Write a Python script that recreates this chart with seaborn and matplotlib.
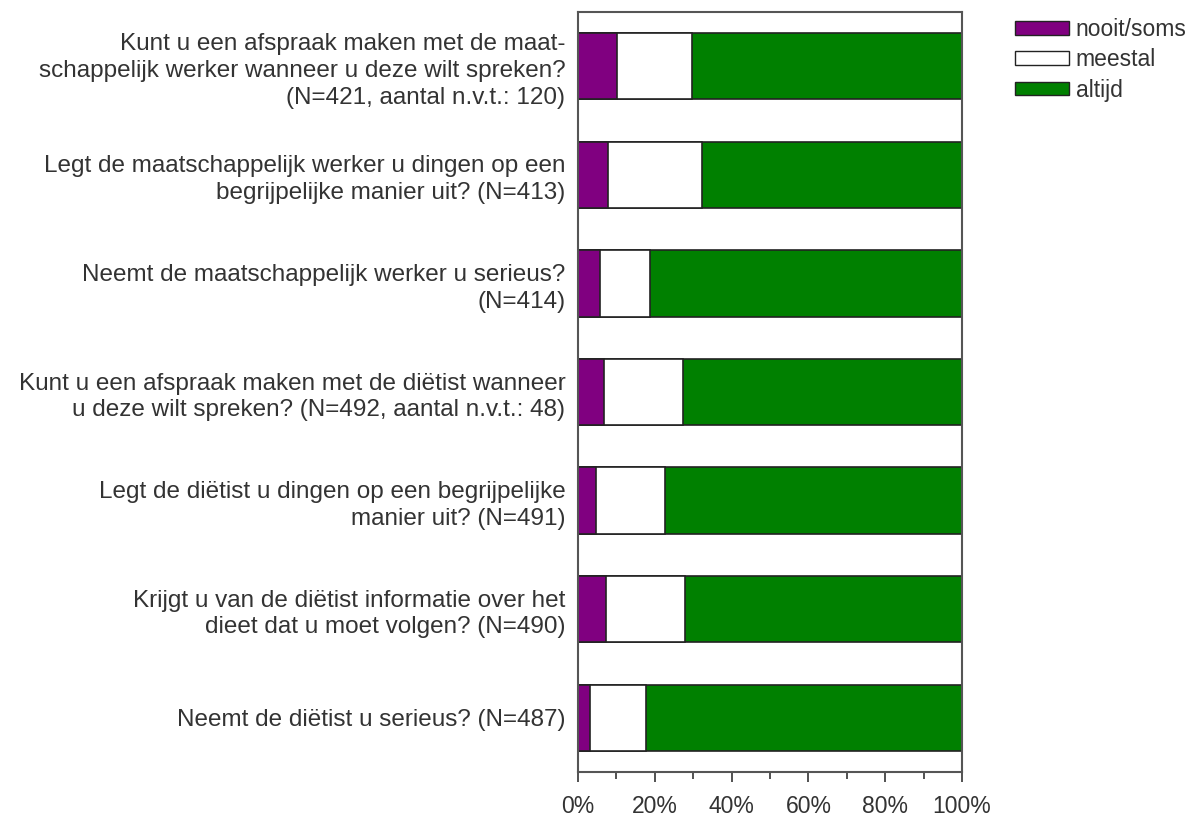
import matplotlib
matplotlib.use("Agg")
import matplotlib.pyplot as plt
import pandas as pd
import seaborn as sns
from matplotlib.patches import Patch
from matplotlib.ticker import MultipleLocator

vragen = [
    "Kunt u een afspraak maken met de maat-\nschappelijk werker wanneer u deze wilt spreken?\n(N=421, aantal n.v.t.: 120)",
    "Legt de maatschappelijk werker u dingen op een\nbegrijpelijke manier uit? (N=413)",
    "Neemt de maatschappelijk werker u serieus?\n(N=414)",
    "Kunt u een afspraak maken met de diëtist wanneer\nu deze wilt spreken? (N=492, aantal n.v.t.: 48)",
    "Legt de diëtist u dingen op een begrijpelijke\nmanier uit? (N=491)",
    "Krijgt u van de diëtist informatie over het\ndieet dat u moet volgen? (N=490)",
    "Neemt de diëtist u serieus? (N=487)",
]
nooit_soms = [10.1, 7.8, 5.7, 6.9, 4.6, 7.3, 3.1]
meestal = [19.7, 24.5, 13.0, 20.5, 18.1, 20.6, 14.5]
altijd = [70.2, 67.7, 81.3, 72.6, 77.3, 72.1, 82.4]

labels = ["nooit/soms", "meestal", "altijd"]
kleuren = ["#800080", "#ffffff", "#008000"]

df = pd.DataFrame({"vraag": vragen, "nooit": nooit_soms, "meestal": meestal, "altijd": altijd})
df["cum1"] = df["nooit"]
df["cum2"] = df["nooit"] + df["meestal"]
df["cum3"] = df["cum2"] + df["altijd"]

sns.set_style("white")
plt.rcParams["font.family"] = ["Liberation Sans", "DejaVu Sans"]
tekst = "#333333"

fig = plt.figure(figsize=(11.95, 8.17), dpi=100)
ax = fig.add_axes([578 / 1195, 1 - 772 / 817, 384 / 1195, 760 / 817])

# stacked by overdrawing cumulative totals, back to front
for col, kleur in zip(["cum3", "cum2", "cum1"], kleuren[::-1]):
    sns.barplot(data=df, y="vraag", x=col, orient="h", color=kleur, width=0.61,
                edgecolor="#222222", linewidth=1.2, saturation=1, ax=ax, order=vragen)

ax.set_xlim(0, 100)
ax.set_xlabel("")
ax.set_ylabel("")
ax.xaxis.set_major_locator(MultipleLocator(20))
ax.xaxis.set_minor_locator(MultipleLocator(10))
ax.set_xticklabels([f"{int(v)}%" for v in ax.get_xticks()])
ax.tick_params(axis="x", which="major", bottom=True, length=7.5, width=1.2, color="#333333",
               labelsize=16.5, labelcolor=tekst, pad=9)
ax.tick_params(axis="x", which="minor", bottom=True, length=5, width=1.2, color="#333333")
ax.tick_params(axis="y", length=0, labelsize=17.5, labelcolor=tekst, pad=9)
for lbl in ax.get_yticklabels():
    lbl.set_horizontalalignment("right")
    lbl.set_multialignment("right")
    lbl.set_linespacing(1.28)

for sp in ax.spines.values():
    sp.set_visible(True)
    sp.set_color("#555555")
    sp.set_linewidth(1.5)

handles = [Patch(facecolor=k, edgecolor="#222222", linewidth=1.0, label=l) for k, l in zip(kleuren, labels)]
leg = fig.legend(handles=handles, loc="upper left", bbox_to_anchor=(1015 / 1195, 1 - 18 / 817),
                 frameon=False, fontsize=16.5, handlelength=2.35, handleheight=0.55,
                 handletextpad=0.3, labelspacing=0.32, borderaxespad=0, borderpad=0)
for t in leg.get_texts():
    t.set_color(tekst)

fig.savefig("out.png", dpi=100)
